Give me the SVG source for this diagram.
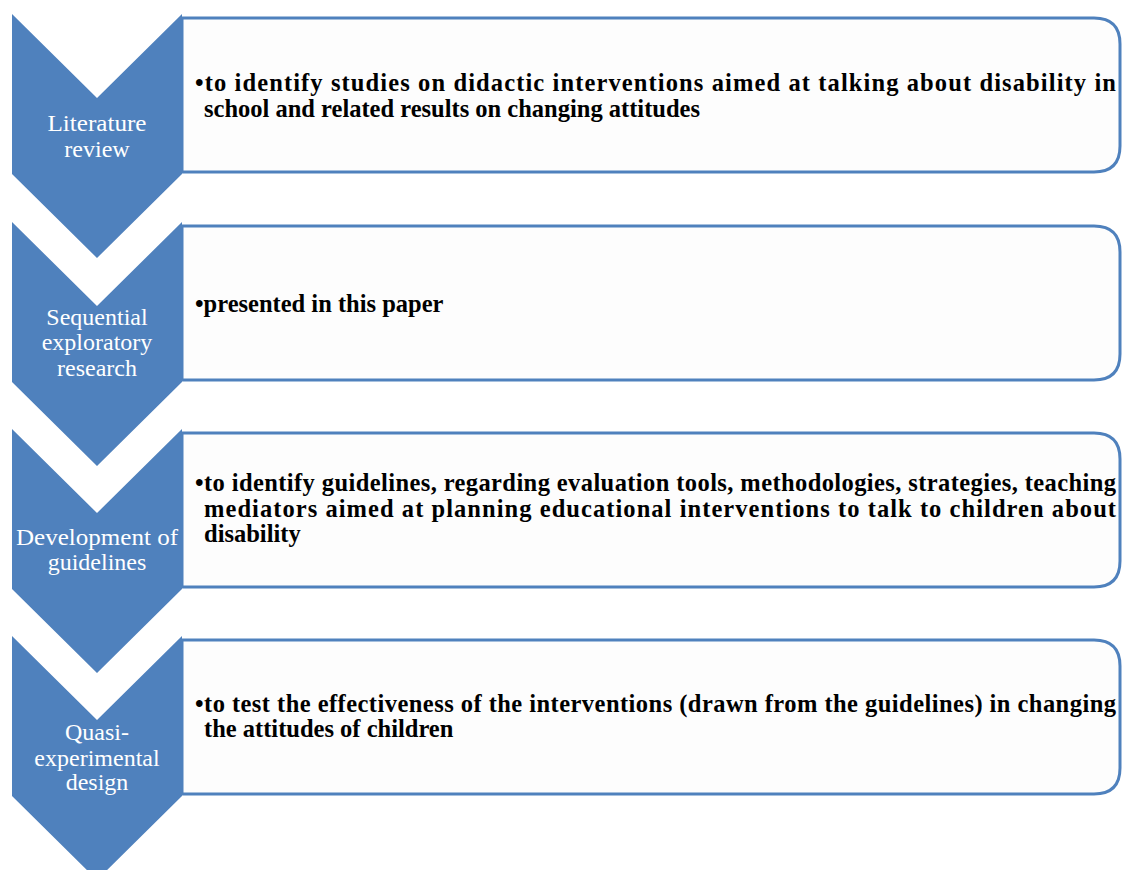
<svg xmlns="http://www.w3.org/2000/svg" width="1122" height="870" viewBox="0 0 1122 870">
<style>
.chev{fill:#4f81bd}
.box{fill:#fdfdfd;stroke:#4f81bd;stroke-width:3}
.lab{font-family:"Liberation Serif",serif;font-size:24px;fill:#ffffff;text-anchor:middle}
.txt{font-family:"Liberation Serif",serif;font-size:24.5px;font-weight:bold;fill:#000000}
</style>
<defs>
<path id="chevShape" d="M12,0 L97,84 L182,0 L182,160 L97,244 L12,160 Z"/>
<path id="boxShape" d="M182,0 L1094,0 Q1120,0 1120,26 L1120,128 Q1120,154 1094,154 L182,154 Z"/>
</defs>
<rect width="1122" height="870" fill="#ffffff"/>
<g id="connectors"></g>
<g id="node1" transform="translate(0,14)">
<use href="#boxShape" class="box" transform="translate(0,4)"/>
<use href="#chevShape" class="chev"/>
<text class="lab" x="97" y="117" textLength="99" lengthAdjust="spacingAndGlyphs">Literature</text>
<text class="lab" x="97" y="143">review</text>
<text class="txt" x="195" y="77" textLength="921" lengthAdjust="spacing">•to identify studies on didactic interventions aimed at talking about disability in</text>
<text class="txt" x="204" y="103">school and related results on changing attitudes</text>
</g>
<g id="node2" transform="translate(0,222)">
<use href="#boxShape" class="box" transform="translate(0,4)"/>
<use href="#chevShape" class="chev"/>
<text class="lab" x="97" y="103">Sequential</text>
<text class="lab" x="97" y="128">exploratory</text>
<text class="lab" x="97" y="154">research</text>
<text class="txt" x="195" y="90">•presented in this paper</text>
</g>
<g id="node3" transform="translate(0,429)">
<use href="#boxShape" class="box" transform="translate(0,4)"/>
<use href="#chevShape" class="chev"/>
<text class="lab" x="97" y="116" textLength="162" lengthAdjust="spacingAndGlyphs">Development of</text>
<text class="lab" x="97" y="141">guidelines</text>
<text class="txt" x="195" y="62" textLength="921" lengthAdjust="spacing">•to identify guidelines, regarding evaluation tools, methodologies, strategies, teaching</text>
<text class="txt" x="204" y="88" textLength="912" lengthAdjust="spacing">mediators aimed at planning educational interventions to talk to children about</text>
<text class="txt" x="204" y="113">disability</text>
</g>
<g id="node4" transform="translate(0,636)">
<use href="#boxShape" class="box" transform="translate(0,4)"/>
<use href="#chevShape" class="chev"/>
<text class="lab" x="97" y="104">Quasi-</text>
<text class="lab" x="97" y="130">experimental</text>
<text class="lab" x="97" y="154">design</text>
<text class="txt" x="195" y="76" textLength="921" lengthAdjust="spacing">•to test the effectiveness of the interventions (drawn from the guidelines) in changing</text>
<text class="txt" x="204" y="101">the attitudes of children</text>
</g>
</svg>
